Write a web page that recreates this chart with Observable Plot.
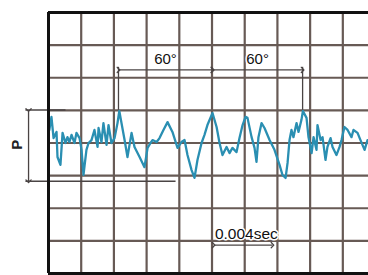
<!DOCTYPE html>
<html>
<head>
<meta charset="utf-8">
<script src="https://cdn.jsdelivr.net/npm/d3@7"></script>
<script src="https://cdn.jsdelivr.net/npm/@observablehq/plot@0.6"></script>
<style>
  html, body { margin: 0; padding: 0; background: #fff; }
  #chart svg { display: block; }
</style>
</head>
<body>
<div id="chart"></div>
<script>
// time in ms (one grid column = 2 ms), pressure in grid units (one row = 1)
const timeMs = [0.05,0.18,0.31,0.49,0.55,0.73,0.86,1.04,1.16,1.28,1.41,1.59,1.71,1.90,2.02,2.14,2.32,2.45,2.63,2.81,3.00,3.06,3.24,3.36,3.55,3.67,3.85,4.04,4.22,4.33,4.65,4.83,5.08,5.26,5.57,5.87,6.06,6.24,6.36,6.61,6.79,7.03,7.28,7.58,7.89,8.13,8.32,8.50,8.75,8.93,9.11,9.36,9.54,9.72,10.03,10.28,10.46,10.64,10.89,11.07,11.25,11.50,11.68,11.87,12.05,12.17,12.42,12.60,12.72,12.84,13.03,13.21,13.52,13.82,14.13,14.31,14.50,14.62,14.74,14.86,14.98,15.17,15.29,15.47,15.56,15.78,15.90,16.09,16.21,16.39,16.45,16.64,16.76,16.94,17.06,17.25,17.37,17.61,17.80,17.92,18.10,18.29,18.53,18.65,18.90,19.08,19.33,19.51];
const pressure = [0.40,0.80,0.15,0.34,-0.43,-0.67,0.31,0.00,0.18,0.03,0.25,0.00,0.31,0.15,-0.21,-0.98,-0.21,0.00,0.09,0.40,-0.12,0.46,0.03,0.61,-0.06,0.55,0.00,0.15,0.61,0.98,0.10,-0.43,0.31,-0.12,-0.43,-0.74,-0.15,0.00,0.09,0.03,0.15,0.40,0.64,0.34,-0.15,0.03,0.09,-0.37,-0.83,-1.07,-0.52,0.00,0.25,0.55,0.92,0.49,0.00,-0.37,-0.12,-0.31,-0.15,-0.28,0.15,0.55,0.80,0.77,0.18,-0.15,-0.58,0.18,0.61,0.46,0.09,-0.21,-0.67,-0.98,-1.07,-0.61,0.09,0.40,0.18,0.61,0.34,0.71,0.98,0.77,0.18,-0.31,0.18,-0.21,0.55,0.09,0.18,-0.52,-0.12,0.15,-0.12,-0.37,-0.12,0.09,0.49,0.40,0.18,0.40,0.31,0.09,-0.21,0.09];

const gridTimes = [0, 2, 4, 6, 8, 10, 12, 14, 16, 18];
const gridLevels = [-4, -3, -2, -1, 0, 1, 2, 3, 4];

// annotation values
const pLabel = ["P"];
const pBracket = {t: -1.22, top: 1.01, bottom: -1.17, extLeft: -1.41, topExtRight: 1.04, bottomExtRight: 7.77};
const angleLabels = ["60°", "60°"];
const angleMarks = [4.28, 10.03, 15.54];
const angleLevel = 2.24;
const angleLabelLevel = 2.58;
const timeLabel = ["0.004sec"];
const timeSpan = [10.1, 13.7];
const timeLevel = -3.13;
const timeLabelLevel = -2.8;

const signal = timeMs.map((t, i) => ({t, p: pressure[i]}));

const gridColor = "#675a55";
const dimColor = "#4a4444";

const chart = Plot.plot({
  width: 368,
  height: 275,
  marginLeft: 48,
  marginRight: 0,
  marginTop: 12,
  marginBottom: 2,
  x: {domain: [0, 19.57], axis: null},
  y: {domain: [-4, 4], axis: null},
  style: {background: "#fff", fontFamily: "Liberation Sans, Arial, sans-serif"},
  marks: [
    Plot.ruleX(gridTimes.slice(1), {stroke: gridColor, strokeWidth: 2.2}),
    Plot.ruleY(gridLevels.slice(1, -1), {stroke: gridColor, strokeWidth: 2.2}),
    // P dimension
    Plot.link([pBracket], {x1: "extLeft", x2: "topExtRight", y1: "top", y2: "top", stroke: dimColor, strokeWidth: 1.5}),
    Plot.link([pBracket], {x1: "extLeft", x2: "bottomExtRight", y1: "bottom", y2: "bottom", stroke: dimColor, strokeWidth: 1.5}),
    Plot.link([pBracket], {x1: "t", x2: "t", y1: "top", y2: "bottom", stroke: dimColor, strokeWidth: 1.3, markerStart: "arrow", markerEnd: "arrow"}),
    Plot.text(pLabel, {x: pBracket.t - 0.68, y: -0.05, text: d => d, rotate: -90, fontSize: 15, fontWeight: "bold", fill: "#222"}),
    // 60° dimensions
    Plot.ruleX([angleMarks[0], angleMarks[2]], {y1: angleLevel + 0.08, y2: 1.0, stroke: dimColor, strokeWidth: 1.3}),
    Plot.link([0, 1], {x1: i => angleMarks[i], x2: i => angleMarks[i + 1], y1: angleLevel, y2: angleLevel, stroke: dimColor, strokeWidth: 1.3, markerStart: "arrow", markerEnd: "arrow"}),
    Plot.text(angleLabels, {x: (d, i) => (angleMarks[i] + angleMarks[i + 1]) / 2, y: angleLabelLevel, text: d => d, fontSize: 15, fill: "#111", stroke: "#fff", strokeWidth: 3}),
    // 0.004 sec
    Plot.link([timeSpan], {x1: d => d[0], x2: d => d[1], y1: timeLevel, y2: timeLevel, stroke: dimColor, strokeWidth: 1.3, markerStart: "arrow", markerEnd: "arrow"}),
    Plot.text(timeLabel, {x: (timeSpan[0] + timeSpan[1]) / 2 + 0.2, y: timeLabelLevel, text: d => d, fontSize: 15.5, fill: "#111", stroke: "#fff", strokeWidth: 3}),
    // signal
    Plot.line(signal, {x: "t", y: "p", stroke: "#2a8fb2", strokeWidth: 2.3, strokeLinejoin: "round"}),
    // frame
    Plot.ruleX([0], {stroke: "#111", strokeWidth: 3}),
    Plot.ruleY([4, -4], {stroke: "#111", strokeWidth: 3})
  ]
});
document.getElementById("chart").appendChild(chart);
</script>
</body>
</html>
